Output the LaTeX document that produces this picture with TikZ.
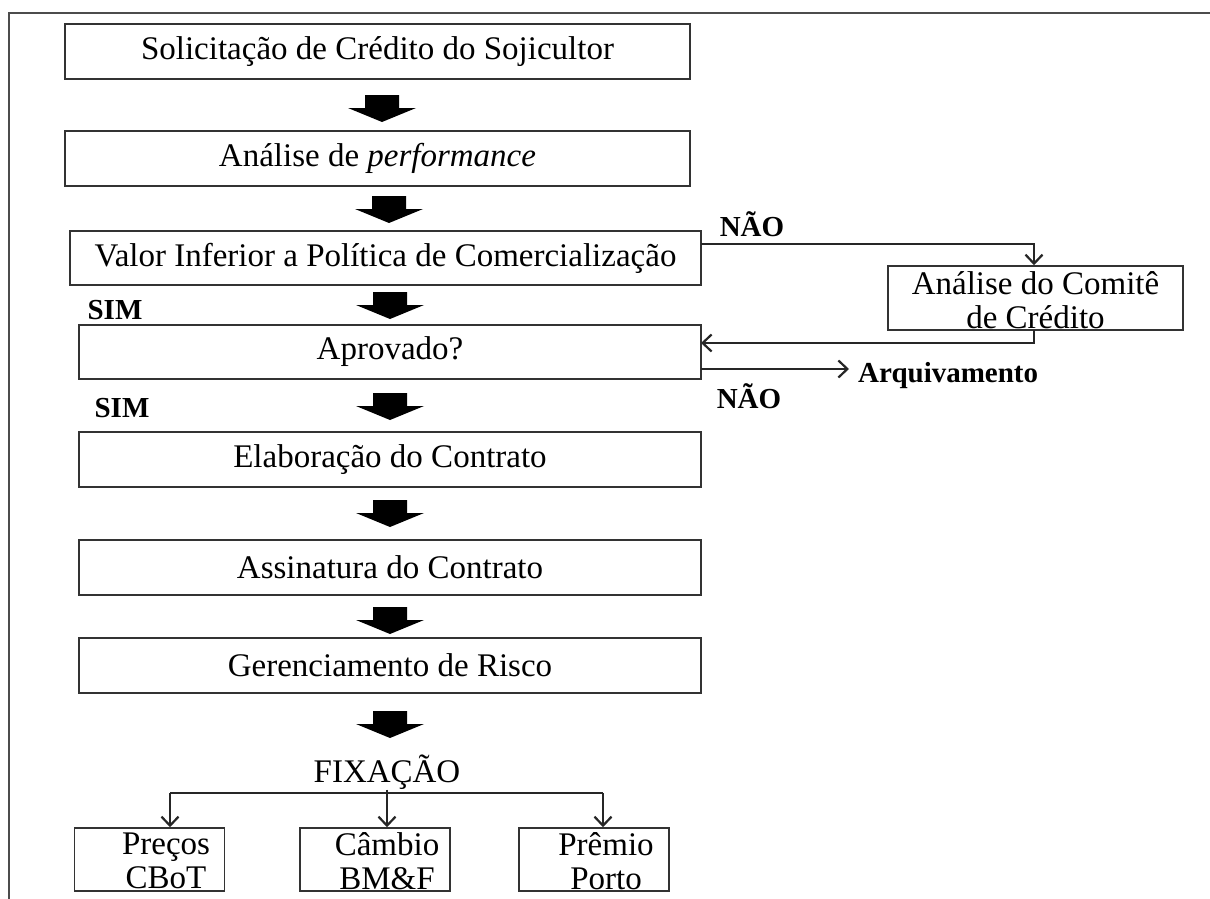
\documentclass[tikz,border=0pt]{standalone}
\usepackage{fontspec}
\setmainfont{Liberation Serif}
\usetikzlibrary{arrows.meta}
\begin{document}
\begin{tikzpicture}[x=1pt,y=-1pt,
  box/.style={draw=black!80, line width=1.5pt, minimum width=625pt, minimum height=55pt, inner sep=0pt, font=\fontsize{33}{34}\selectfont},
  sbox/.style={draw=black!80, line width=1.5pt, minimum width=150pt, minimum height=63pt, inner sep=0pt},
  txt/.style={inner sep=0pt, align=center, font=\fontsize{33}{34}\selectfont},
  lbl/.style={inner sep=0pt, font=\fontsize{29}{30}\selectfont\bfseries},
  conn/.style={draw=black!85, line width=2.2pt},
  tip/.style={-{Straight Barb[length=9pt,width=17pt,line width=2.2pt]}},
  blockarrow/.pic={\fill[black] (-17,0) -- (17,0) -- (17,13) -- (34,13) -- (0,27) -- (-34,13) -- (-17,13) -- cycle;}
]
\useasboundingbox (0,0) rectangle (1210,899);
% outer frame
\draw[draw=black!70, line width=1.8pt] (9,899) -- (9,13) -- (1210,13);

% main boxes
\node[box] (b1) at (377.5,51.5) {Solicitação de Crédito do Sojicultor};
\node[box] (b2) at (377.5,158.5) {Análise de \textit{performance}};
\node[box, minimum width=631pt, minimum height=54pt] (b3) at (385.5,258) {Valor Inferior a Política de Comercialização};
\node[box, minimum width=622pt, minimum height=54pt] (b4) at (390,352) {Aprovado?};
\node[box, minimum width=622pt] (b5) at (390,459.5) {Elaboração do Contrato};
\node[box, minimum width=622pt] (b6) at (390,567.5) {Assinatura do Contrato};
\node[box, minimum width=622pt] (b7) at (390,665.5) {Gerenciamento de Risco};

% block arrows
\pic at (382,95) {blockarrow};
\pic at (389,196) {blockarrow};
\pic at (390,292) {blockarrow};
\pic at (390,393) {blockarrow};
\pic at (390,500) {blockarrow};
\pic at (390,607) {blockarrow};
\pic at (390,711) {blockarrow};

% labels
\node[lbl] (sim1) at (115,310) {SIM};
\node[lbl] (sim2) at (122,408) {SIM};
\node[lbl] (nao1) at (752,224) {NÃO};
\node[lbl] (nao2) at (749,396) {NÃO};

% committee
\node[sbox, minimum width=295pt, minimum height=64pt] (com) at (1035.5,298) {};
\node[txt] (comt) at (1035.5,300) {Análise do Comitê\\de Crédito};
\coordinate (c1) at (701,244);
\coordinate (c2) at (1034,244);
\coordinate (c3) at (1034,330);
\coordinate (c4) at (1034,343);
\coordinate (c5) at (701,343);
\coordinate (a1) at (701,369);
\coordinate (a2) at (849,369);
\draw[conn, tip] (c1) -- (c2) -- (c2 |- com.north);
\draw[conn, tip] (c3) -- (c4) -- (c5);
\draw[conn, tip] (a1) -- (a2);
\node[lbl, anchor=west] (arq) at (858,376) {Arquivamento};

% fixation
\node[txt] (fix) at (387,772) {FIXAÇÃO};
\coordinate (h1) at (170,793);
\coordinate (h2) at (387,793);
\coordinate (h3) at (603,793);
\draw[conn] (h1) -- (h3);
\draw[conn] (fix.south) -- (h2);
\node[sbox] (p1) at (149.5,859.5) {};
\node[sbox] (p2) at (375,859.5) {};
\node[sbox] (p3) at (594,859.5) {};
\node[txt] (t1) at (166,861) {Preços\\CBoT};
\node[txt] (t2) at (387,861) {Câmbio\\BM\&F};
\node[txt] (t3) at (606,861) {Prêmio\\Porto};
\draw[conn, tip] (h1) -- (h1 |- p1.north);
\draw[conn, tip] (h2) -- (h2 |- p2.north);
\draw[conn, tip] (h3) -- (h3 |- p3.north);
\end{tikzpicture}
\end{document}
